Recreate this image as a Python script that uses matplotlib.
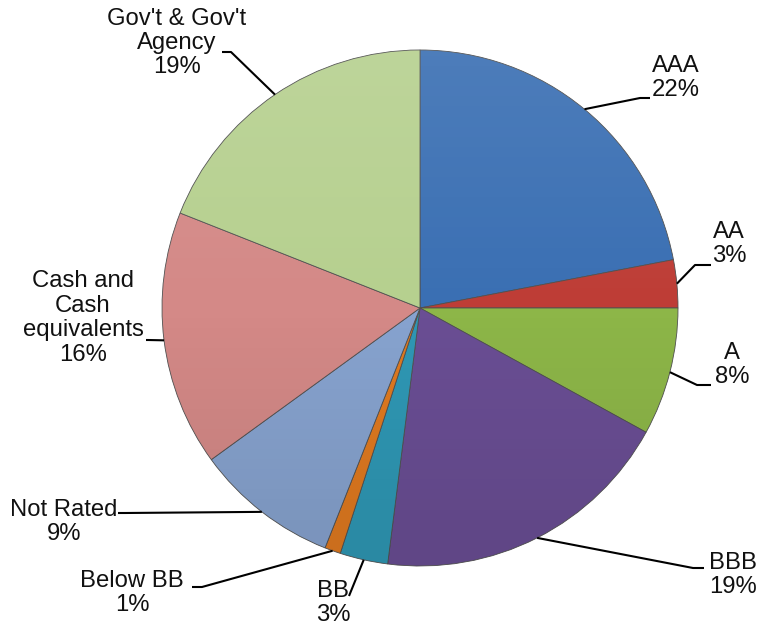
import numpy as np
import matplotlib.pyplot as plt
from matplotlib.patches import Circle

plt.rcParams['font.family'] = ['Liberation Sans', 'DejaVu Sans']

# Portfolio credit quality breakdown (%)
categories = ['AAA', 'AA', 'A', 'BBB', 'BB', 'Below BB', 'Not Rated',
              'Cash and\nCash\nequivalents', "Gov't & Gov't\nAgency"]
shares = [22, 3, 8, 19, 3, 1, 9, 16, 19]
colors = ['#3a6fb3', '#be3d36', '#8db648', '#6a4e94', '#2f98b5', '#e07a20',
          '#87a3cf', '#d48987', '#b6d08f']

# label placement: text centre, elbow of the leader line, end of the leader line
label_xy = [(676, 78), (729, 244), (732, 365), (733, 575), (333, 603),
            (132, 593), (64, 522), (83, 318), (177, 43)]
elbow_xy = [(640, 98), (695, 265), (697, 385), (693, 568), (349, 596),
            (202, 587), (125, 513), (148, 340), (231, 52)]
end_x = [650, 711, 711, 704, 349, 192, 118, 146, 222]

W, H = 759, 629
cx, cy, r = 420, H - 308, 258

fig = plt.figure(figsize=(W / 100, H / 100), dpi=100)
ax = fig.add_axes([0, 0, 1, 1])

wedges, _ = ax.pie(shares, colors=colors, startangle=90, counterclock=False,
                   center=(cx, cy), radius=r, frame=True,
                   wedgeprops=dict(edgecolor='#505050', linewidth=0.6))

# soft top-to-bottom shading over the whole pie
grad = np.linspace(1, -1, 256).reshape(-1, 1)
shade = np.zeros((256, 1, 4))
shade[..., :3] = (grad > 0)[..., None] * 1.0
shade[..., 3] = np.abs(grad)[:, 0:1] * 0.10
img = ax.imshow(shade, extent=(cx - r, cx + r, cy - r, cy + r),
                aspect='auto', zorder=2, interpolation='bilinear')
img.set_clip_path(Circle((cx, cy), r, transform=ax.transData))

ax.set_xlim(0, W)
ax.set_ylim(0, H)
ax.set_aspect('equal')
ax.axis('off')

for w, name, val, (tx, ty), (ex, ey), xe in zip(wedges, categories, shares,
                                                label_xy, elbow_xy, end_x):
    ang = np.deg2rad((w.theta1 + w.theta2) / 2)
    px = cx + r * np.cos(ang)
    py = cy + r * np.sin(ang)
    ax.plot([px, ex, xe], [py, H - ey, H - ey], color='black', lw=1.5,
            solid_capstyle='butt', zorder=3)
    ax.text(tx, H - ty, f'{name}\n{val}%', ha='center', va='center',
            multialignment='center', fontsize=17.2, color='#111111',
            linespacing=1.14)

fig.savefig('out.png', dpi=100, facecolor='white')
